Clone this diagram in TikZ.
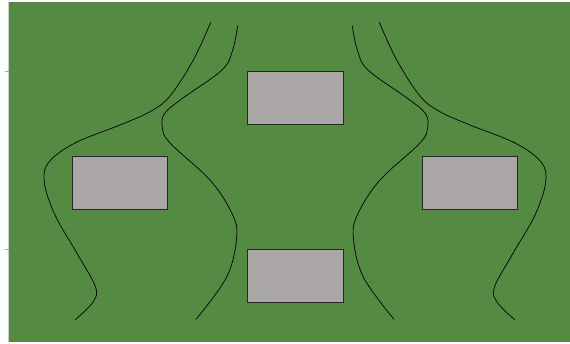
\documentclass[tikz,border=0pt]{standalone}
\begin{document}
\begin{tikzpicture}[x=1pt,y=-1pt,
  field/.style={fill=fieldgreen,draw=none},
  box/.style={fill=boxgray,draw=black!85,line width=0.8pt},
  curve/.style={draw=black,line width=0.7pt},
  tick/.style={draw=gray!70,line width=0.6pt}]
\definecolor{fieldgreen}{HTML}{548A42}
\definecolor{boxgray}{HTML}{ABA7A7}
\useasboundingbox[fill=white] (0,0) rectangle (570,344);
\fill[field] (8.5,2) rectangle (570,342);
\draw[draw=green!30!gray!40,line width=0.5pt] (8.5,2) -- (8.5,342);
\draw[tick] (5,71.3) -- (8.5,71.3);
\draw[tick] (5,249.3) -- (8.5,249.3);
% boxes
\path[box] (247.3,71.3) rectangle (343.3,124.3);
\path[box] (247.3,249.3) rectangle (343.3,302.3);
\path[box] (72.3,156) rectangle (167.7,209);
\path[box] (422.3,156) rectangle (517.7,209);
% curves, left and mirrored right
\foreach \sx in {1,-1}{
 \begin{scope}[shift={(295,0)},xscale=\sx,shift={(-295,0)}]
  \draw[curve] plot[smooth,tension=0.6] coordinates {(210.7,22.3) (193.3,60) (170,96) (150,111.7) (120,125) (75,143) (49,162) (44.3,182) (55,215) (78,255) (95.5,287) (93,302) (75,320)};
  \draw[curve] plot[smooth,tension=0.6] coordinates {(237.7,25.7) (232.7,50) (222,70) (183,98) (165,113) (162.3,127) (170,143) (210,180) (231.7,213) (236.7,237) (226.7,277) (196,319.3)};
 \end{scope}
}
\end{tikzpicture}
\end{document}
